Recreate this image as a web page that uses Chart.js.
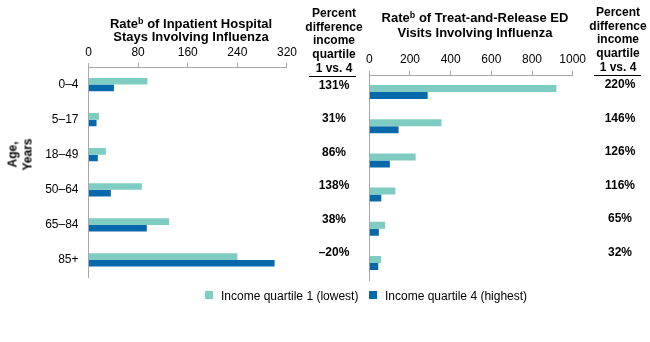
<!DOCTYPE html>
<html>
<head>
<meta charset="utf-8">
<script src="https://cdn.jsdelivr.net/npm/chart.js@4/dist/chart.umd.min.js"></script>
<style>
  body {
    margin: 0;
    width: 650px;
    height: 342px;
    position: relative;
    overflow: hidden;
    background: #fff;
    font-family: "Liberation Sans", Arial, sans-serif;
    color: #000;
  }
  .abs { position: absolute; }
  .title { font-weight: bold; font-size: 13px; text-align: center; white-space: nowrap; }
  .title sup { font-size: 9px; vertical-align: top; position: relative; top: -2px; }
  .colhead { font-weight: bold; font-size: 12px; text-align: center; line-height: 13.7px; }
  .pct { font-weight: bold; font-size: 12px; text-align: center; width: 60px; height: 14px; line-height: 14px; }
  .rule { height: 1px; background: #000; }
  .legend-box { width: 8px; height: 8px; }
  .legend-text { font-size: 12px; line-height: 14px; white-space: nowrap; }
</style>
</head>
<body>
<canvas id="hospChart" class="abs" width="300" height="342" style="left:0;top:0"></canvas>
<canvas id="edChart" class="abs" width="233" height="342" style="left:360px;top:0"></canvas>

<div class="abs title" style="left:91px;top:17px;width:200px;line-height:13px">Rate<sup>b</sup> of Inpatient Hospital<br>Stays Involving Influenza</div>
<div class="abs title" style="left:375px;top:10px;width:200px;line-height:15px">Rate<sup>b</sup> of Treat-and-Release ED<br>Visits Involving Influenza</div>

<div class="abs colhead" style="left:298px;top:7px;width:72px">Percent<br>difference<br>income<br>quartile<br>1 vs. 4</div>
<div class="abs colhead" style="left:582px;top:6px;width:72px">Percent<br>difference<br>income<br>quartile<br>1 vs. 4</div>
<div class="abs rule" style="left:309px;top:76px;width:47px"></div>
<div class="abs rule" style="left:594px;top:75px;width:47px"></div>

<div class="abs title" style="left:-10px;top:140px;width:60px;font-size:12px;line-height:14.5px;transform:rotate(-90deg)">Age,<br>Years</div>

<div class="abs legend-box" style="left:205px;top:291px;background:#7fccc3"></div>
<div class="abs legend-text" style="left:221px;top:289px">Income quartile 1 (lowest)</div>
<div class="abs legend-box" style="left:369px;top:291px;background:#0868ac"></div>
<div class="abs legend-text" style="left:385px;top:289px">Income quartile 4 (highest)</div>

<script>
  const ageGroups = ['0–4', '5–17', '18–49', '50–64', '65–84', '85+'];

  // inpatient stays involving influenza, rate per population
  const hospQ1 = [95, 17, 28, 86, 130, 240];
  const hospQ4 = [41, 13, 15, 36, 94, 300];
  const hospPct = ['131%', '31%', '86%', '138%', '38%', '–20%'];
  const hospTicks = [0, 80, 160, 240, 320];

  // treat-and-release ED visits involving influenza
  const edQ1 = [920, 355, 228, 128, 78, 58];
  const edQ4 = [287, 144, 101, 59, 47, 44];
  const edPct = ['220%', '146%', '126%', '116%', '65%', '32%'];
  const edTicks = [0, 200, 400, 600, 800, 1000];

  const LIGHT = '#7fccc3';
  const DARK = '#0868ac';
  const AXIS = '#a6a6a6';
  const FONT = '"Liberation Sans", Arial, sans-serif';

  function buildChart(id, q1, q4, ticks, opts) {
    const ctx = document.getElementById(id).getContext('2d');
    return new Chart(ctx, {
      type: 'bar',
      data: {
        labels: ageGroups,
        datasets: [
          { label: 'Income quartile 1 (lowest)', data: q1, backgroundColor: LIGHT,
            categoryPercentage: opts.catPct, barPercentage: 1 },
          { label: 'Income quartile 4 (highest)', data: q4, backgroundColor: DARK,
            categoryPercentage: opts.catPct, barPercentage: 1 }
        ]
      },
      options: {
        indexAxis: 'y',
        responsive: false,
        animation: false,
        layout: { padding: opts.padding },
        plugins: {
          legend: { display: false },
          tooltip: { enabled: false }
        },
        scales: {
          x: {
            position: 'top',
            min: ticks[0],
            max: ticks[ticks.length - 1],
            afterBuildTicks: function (scale) {
              scale.ticks = ticks.map(v => ({ value: v }));
            },
            afterFit: function (scale) {
              scale.height = opts.xHeight;
            },
            grid: { drawOnChartArea: false, drawTicks: true, tickLength: 4, color: AXIS },
            border: { display: true, color: AXIS },
            ticks: {
              padding: opts.tickPad,
              color: '#000',
              font: { family: FONT, size: 12 },
              callback: function (value) {
                return String(value);
              }
            }
          },
          y: {
            afterFit: function (scale) {
              scale.width = opts.yWidth;
            },
            grid: { display: false, tickLength: 8 },
            border: { display: true, color: AXIS },
            ticks: { display: opts.showLabels, padding: 2, color: '#000', font: { family: FONT, size: 12 } }
          }
        }
      }
    });
  }

  buildChart('hospChart', hospQ1, hospQ4, hospTicks, {
    catPct: 0.38, xHeight: 67, yWidth: 88.5, tickPad: 3, showLabels: true,
    padding: { left: 0, right: 11, top: 0, bottom: 64.5 }
  });

  buildChart('edChart', edQ1, edQ4, edTicks, {
    catPct: 0.41, xHeight: 75, yWidth: 9.3, tickPad: 4, showLabels: false,
    padding: { left: 0, right: 20.3, top: 0, bottom: 62 }
  });

  // percent difference columns
  function placePercents(values, centerX, firstY, step) {
    values.forEach((txt, i) => {
      const el = document.createElement('div');
      el.className = 'abs pct';
      el.textContent = txt;
      el.style.left = (centerX - 30) + 'px';
      el.style.top = (firstY + i * step - 7) + 'px';
      document.body.appendChild(el);
    });
  }
  placePercents(hospPct, 334, 85, 33.4);
  placePercents(edPct, 620, 84, 33.5);
</script>
</body>
</html>
